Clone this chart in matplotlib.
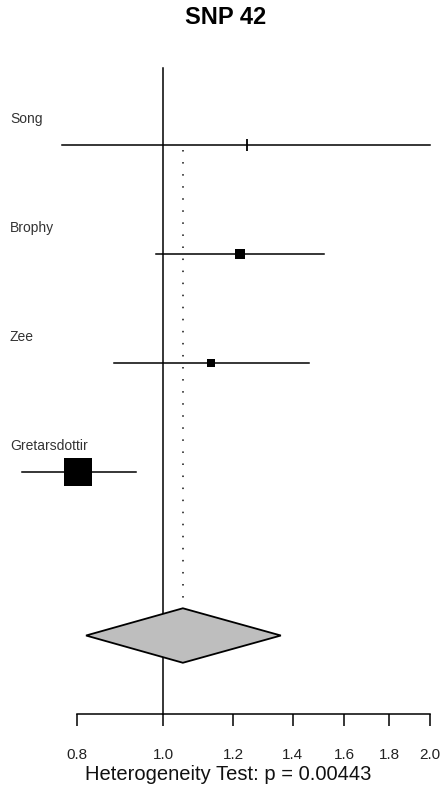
import numpy as np
import matplotlib
matplotlib.use("Agg")
import matplotlib.pyplot as plt
from matplotlib.patches import Polygon

plt.rcParams['font.family'] = ['Liberation Sans', 'DejaVu Sans']

# ---------- data ----------
studies = ["Song", "Brophy", "Zee", "Gretarsdottir"]
odds_ratio = [1.244, 1.221, 1.133, 0.803]
ci_lower = [0.769, 0.982, 0.880, 0.693]
ci_upper = [2.00, 1.519, 1.461, 0.932]
weights = [0.3, 11.0, 5.5, 81.0]

summary_or = 1.053
summary_lower = 0.819
summary_upper = 1.358

ticks = [0.8, 1.0, 1.2, 1.4, 1.6, 1.8, 2.0]
title = "SNP 42"
het_label = "Heterogeneity Test: p = 0.00443"

# ---------- layout ----------
W, H = 445, 793
fig = plt.figure(figsize=(W / 100, H / 100), dpi=100)
ax = fig.add_axes([77 / W, (H - 714) / H, (430 - 77) / W, (714 - 60) / H])
ax.set_xscale("log")
ax.set_xlim(0.8, 2.0)
ylo, yhi = -0.22, 5.78
ax.set_ylim(ylo, yhi)

rows = [5, 4, 3, 2]
sum_row = 0.5

# reference line at 1
ax.plot([1, 1], [ylo, 5.706], color="black", lw=1.1, clip_on=False, zorder=1)

# dotted line at summary estimate
ax.plot([summary_or, summary_or], [4.95, sum_row + 0.25], color="#444444",
        lw=1.4, linestyle=(0, (0.8, 5.4)), zorder=1)

for name, r, est, lo, hi, w in zip(studies, rows, odds_ratio, ci_lower, ci_upper, weights):
    ax.plot([lo, hi], [r, r], color="black", lw=1.1, clip_on=False, zorder=2)
    box = 2.2 * np.sqrt(w)  # points
    if box < 3:
        ax.plot(est, r, marker="|", markersize=9, mew=1.3, color="black",
                clip_on=False, zorder=3)
    else:
        ax.plot(est, r, marker="s", markersize=box, color="black", mew=0,
                clip_on=False, zorder=3)
    ax.annotate(name, xy=(10 / W, r + 0.24), xycoords=("figure fraction", "data"),
                ha="left", va="center", fontsize=10, color="#333333")

# summary diamond
dh = 0.25
diamond = Polygon([[summary_lower, sum_row], [summary_or, sum_row + dh],
                   [summary_upper, sum_row], [summary_or, sum_row - dh]],
                  closed=True, facecolor="#bebebe", edgecolor="black", lw=1.3,
                  zorder=4)
ax.add_patch(diamond)

# axis styling
for s in ["top", "right", "left"]:
    ax.spines[s].set_visible(False)
ax.spines["bottom"].set_linewidth(1.1)
ax.set_yticks([])
ax.set_xticks(ticks)
ax.set_xticklabels([f"{t:.1f}" for t in ticks])
ax.xaxis.set_minor_locator(matplotlib.ticker.NullLocator())
ax.tick_params(axis="x", direction="out", length=8.6, width=1.1, pad=16,
               labelsize=11, colors="black", labelcolor="#222222")
ax.set_xlabel(het_label, fontsize=14.5, color="#111111")
ax.xaxis.label.set_va("center")
ax.xaxis.set_label_coords((228 - 77) / 353, (714 - 774) / 654)

fig.text(226 / W, 1 - 18 / H, title, ha="center", va="center",
         fontsize=17, fontweight="bold")

fig.savefig("out.png", dpi=100)
